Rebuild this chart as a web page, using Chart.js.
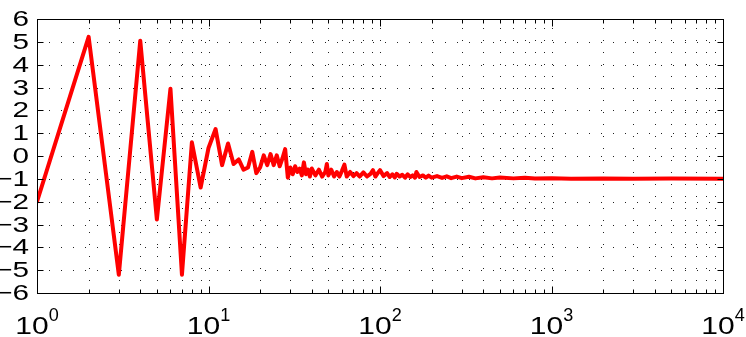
<!DOCTYPE html>
<html lang="en">
<head>
<meta charset="UTF-8">
<title>Log plot</title>
<style>
  *{margin:0;padding:0;box-sizing:border-box;}
  html,body{background:#fff;width:746px;height:337px;overflow:hidden;}
</style>
<script src="https://cdn.jsdelivr.net/npm/chart.js@4.4.0/dist/chart.umd.min.js"></script>
</head>
<body>
<canvas id="chart" width="746" height="337"></canvas>
<script>
// values
const xVals = [1,2,3,4,5,6,7,8,9,10,11,12,13,14,15,16,17,18,19,20,
  21,22,23,24,25,26,27,28,29,30,31,32,33,34,35,36,37,38,39,40,
  42,44,46,48,49,50,52,54,56,58,60,62,64,67,70,73,76,80,84,88,
  91,94,97,100,105,110,114,118,122,125,130,135,140,145,150,155,160,163,170,178,
  185,192,200,215,230,245,260,280,300,330,360,400,450,500,600,700,800,
  1000,1300,2000,3000,5000,10000];
const yVals = [-2.0,5.22,-5.2,5.05,-2.78,2.95,-5.2,0.6,-1.38,0.35,1.18,-0.4,0.55,-0.35,-0.15,-0.6,-0.5,0.18,-0.75,-0.5,
  0.03,-0.4,0.08,-0.4,0.03,-0.45,-0.1,0.3,-0.95,-0.5,-0.8,-0.45,-0.7,-0.55,-0.85,-0.28,-0.8,-0.6,-0.9,-0.55,
  -0.85,-0.6,-0.9,-0.7,-0.35,-0.85,-0.6,-0.9,-0.7,-0.9,-0.65,-0.38,-0.9,-0.7,-0.88,-0.75,-0.9,-0.72,-0.9,-0.78,
  -0.62,-0.9,-0.75,-0.62,-0.88,-0.75,-0.92,-0.8,-0.94,-0.78,-0.9,-0.82,-0.95,-0.8,-0.92,-0.85,-0.95,-0.7,-0.92,-0.85,
  -0.95,-0.86,-0.95,-0.88,-0.96,-0.89,-0.97,-0.9,-0.97,-0.91,-0.98,-0.93,-0.98,-0.94,-0.98,-0.95,-0.99,
  -0.97,-1.0,-0.98,-1.0,-0.99,-1.0];
const yTicks = [-6,-5,-4,-3,-2,-1,0,1,2,3,4,5,6];
const xDecades = [0,1,2,3,4];

const points = xVals.map((x, i) => ({x, y: yVals[i]}));
const FONT = '"Liberation Sans", Arial, Helvetica, sans-serif';

const axesPlugin = {
  id: 'matlabAxes',
  beforeDatasetsDraw(chart) {
    const {ctx, chartArea: a, scales: {x, y}} = chart;
    ctx.save();
    ctx.strokeStyle = '#222';
    ctx.lineWidth = 1;
    ctx.setLineDash([1, 11]);
    // vertical grid, major + minor
    xDecades.slice(0, -1).forEach(d => {
      for (let m = 1; m <= 9; m++) {
        const px = Math.round(x.getPixelForValue(m * Math.pow(10, d))) + 0.5;
        ctx.beginPath(); ctx.moveTo(px, a.bottom); ctx.lineTo(px, a.top); ctx.stroke();
      }
    });
    // horizontal grid
    yTicks.forEach(t => {
      const py = Math.round(y.getPixelForValue(t)) + 0.5;
      ctx.beginPath(); ctx.moveTo(a.left, py); ctx.lineTo(a.right, py); ctx.stroke();
    });
    ctx.restore();
  },
  afterDatasetsDraw(chart) {
    const {ctx, chartArea: a, scales: {x, y}} = chart;
    const L = Math.round(a.left) + 0.5, R = Math.round(a.right) + 0.5;
    const T = Math.round(a.top) + 0.5, B = Math.round(a.bottom) + 0.5;
    ctx.save();
    ctx.strokeStyle = '#000';
    ctx.lineWidth = 1;
    ctx.strokeRect(L, T, R - L, B - T);

    // x ticks, top and bottom
    ctx.beginPath();
    xDecades.forEach((d, i) => {
      const px = Math.round(x.getPixelForValue(Math.pow(10, d))) + 0.5;
      ctx.moveTo(px, B); ctx.lineTo(px, B - 7);
      ctx.moveTo(px, T); ctx.lineTo(px, T + 7);
      if (i < xDecades.length - 1) {
        for (let m = 2; m <= 9; m++) {
          const pm = Math.round(x.getPixelForValue(m * Math.pow(10, d))) + 0.5;
          ctx.moveTo(pm, B); ctx.lineTo(pm, B - 4);
          ctx.moveTo(pm, T); ctx.lineTo(pm, T + 4);
        }
      }
    });
    // y ticks, left and right
    yTicks.forEach(t => {
      const py = Math.round(y.getPixelForValue(t)) + 0.5;
      ctx.moveTo(L, py); ctx.lineTo(L + 6, py);
      ctx.moveTo(R, py); ctx.lineTo(R - 6, py);
    });
    ctx.stroke();

    // y labels
    ctx.fillStyle = '#000';
    ctx.font = '22px ' + FONT;
    ctx.textAlign = 'right';
    ctx.textBaseline = 'middle';
    yTicks.forEach(t => {
      const py = y.getPixelForValue(t);
      ctx.save();
      ctx.translate(a.left - 8, py + 1);
      ctx.scale(1.35, 1);
      ctx.fillText(t < 0 ? '\u2212' + Math.abs(t) : String(t), 0, 0);
      ctx.restore();
    });

    // x labels: 10 with superscript exponent
    ctx.textAlign = 'left';
    ctx.textBaseline = 'alphabetic';
    xDecades.forEach(d => {
      const px = x.getPixelForValue(Math.pow(10, d));
      ctx.font = '24px ' + FONT;
      const wb = ctx.measureText('10').width * 1.25;
      ctx.font = '19px ' + FONT;
      const ws = ctx.measureText(String(d)).width * 0.95;
      const left = px - (wb + ws) / 2;
      ctx.save();
      ctx.font = '24px ' + FONT;
      ctx.translate(left, a.bottom + 41);
      ctx.scale(1.25, 1);
      ctx.fillText('10', 0, 0);
      ctx.restore();
      ctx.save();
      ctx.font = '19px ' + FONT;
      ctx.translate(left + wb, a.bottom + 28);
      ctx.scale(0.95, 1);
      ctx.fillText(String(d), 0, 0);
      ctx.restore();
    });
    ctx.restore();
  }
};

new Chart(document.getElementById('chart'), {
  type: 'line',
  data: {
    datasets: [{
      data: points,
      borderColor: '#ff0000',
      borderWidth: 4,
      borderJoinStyle: 'round',
      borderCapStyle: 'round',
      pointRadius: 0,
      fill: false,
      tension: 0
    }]
  },
  options: {
    responsive: false,
    devicePixelRatio: 1,
    animation: false,
    layout: {padding: {left: 37, right: 23, top: 19, bottom: 44}},
    plugins: {legend: {display: false}, tooltip: {enabled: false}},
    scales: {
      x: {type: 'logarithmic', min: 1, max: 10000, display: false},
      y: {type: 'linear', min: -6, max: 6, display: false}
    }
  },
  plugins: [axesPlugin]
});
</script>
</body>
</html>
